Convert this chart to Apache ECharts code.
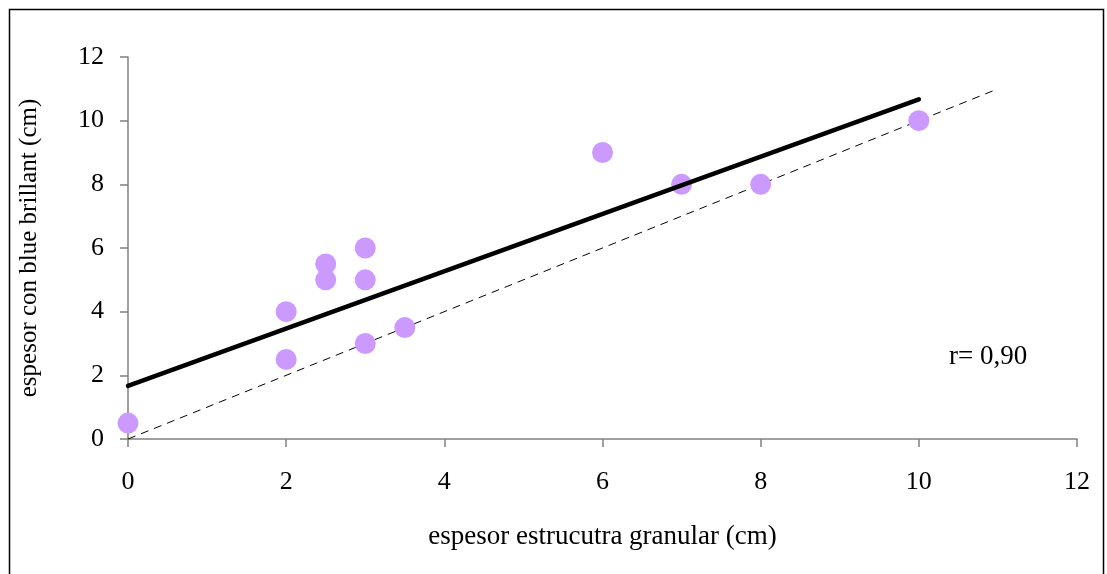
<!DOCTYPE html>
<html>
<head>
<meta charset="utf-8">
<script src="https://cdn.jsdelivr.net/npm/echarts@6/dist/echarts.min.js"></script>
<style>
  html, body { margin: 0; padding: 0; background: #fff; }
  #chart { width: 1107px; height: 574px; }
</style>
</head>
<body>
<div id="chart"></div>
<script>
  // puntos medidos (x: estructura granular, y: blue brillant)
  const xValues = [0, 2, 2, 2.5, 2.5, 3, 3, 3, 3.5, 6, 7, 8, 10]
  const yValues = [0.5, 4, 2.5, 5.5, 5, 6, 5, 3, 3.5, 9, 8, 8, 10]
  // recta de regresión y recta 1:1
  const trendX = [0, 10]
  const trendY = [1.67, 10.67]
  const identX = [0, 11]
  const identY = [0, 11]
  const axisTicks = [0, 2, 4, 6, 8, 10, 12]
  const rLabel = 'r= 0,90'

  const font = '"Liberation Serif", "Times New Roman", serif'
  const pairs = (xs, ys) => xs.map((x, i) => [x, ys[i]])

  const chart = echarts.init(document.getElementById('chart'), null, { renderer: 'canvas' })

  const axisCommon = {
    type: 'value',
    min: axisTicks[0],
    max: axisTicks[axisTicks.length - 1],
    interval: axisTicks[1] - axisTicks[0],
    splitLine: { show: false },
    axisLine: { show: true, lineStyle: { color: '#808080', width: 1.5 } },
    axisTick: { show: true, inside: false, length: 8, lineStyle: { color: '#808080', width: 1.5 } }
  }

  chart.setOption({
    animation: false,
    graphic: [
      {
        type: 'rect',
        shape: { x: 9.5, y: 9.5, width: 1094, height: 600 },
        style: { fill: 'none', stroke: '#000', lineWidth: 1.5 },
        silent: true
      },
      {
        type: 'text',
        left: 949,
        top: 343,
        style: { text: rLabel, font: '27px ' + font, fill: '#000' }
      }
    ],
    grid: { left: 128, top: 57, right: 30, bottom: 135 },
    xAxis: Object.assign({}, axisCommon, {
      name: 'espesor estrucutra granular (cm)',
      nameLocation: 'middle',
      nameGap: 84,
      nameTextStyle: { fontFamily: font, fontSize: 27, color: '#000' },
      axisLabel: { fontFamily: font, fontSize: 26, color: '#000', margin: 30 }
    }),
    yAxis: Object.assign({}, axisCommon, {
      name: 'espesor con blue brillant (cm)',
      nameLocation: 'middle',
      nameGap: 86,
      nameTextStyle: { fontFamily: font, fontSize: 25, color: '#000' },
      axisLabel: { fontFamily: font, fontSize: 26, color: '#000', margin: 24 }
    }),
    series: [
      {
        type: 'line',
        data: pairs(identX, identY),
        symbol: 'none',
        lineStyle: { color: '#000', width: 1, type: [8, 6] },
        z: 1
      },
      {
        type: 'line',
        data: pairs(trendX, trendY),
        symbol: 'none',
        lineStyle: { color: '#000', width: 4.5, cap: 'round' },
        z: 3
      },
      {
        type: 'scatter',
        data: pairs(xValues, yValues),
        symbol: 'circle',
        symbolSize: 21,
        itemStyle: { color: '#cc99ff', opacity: 1 },
        z: 2
      }
    ]
  })
</script>
</body>
</html>
